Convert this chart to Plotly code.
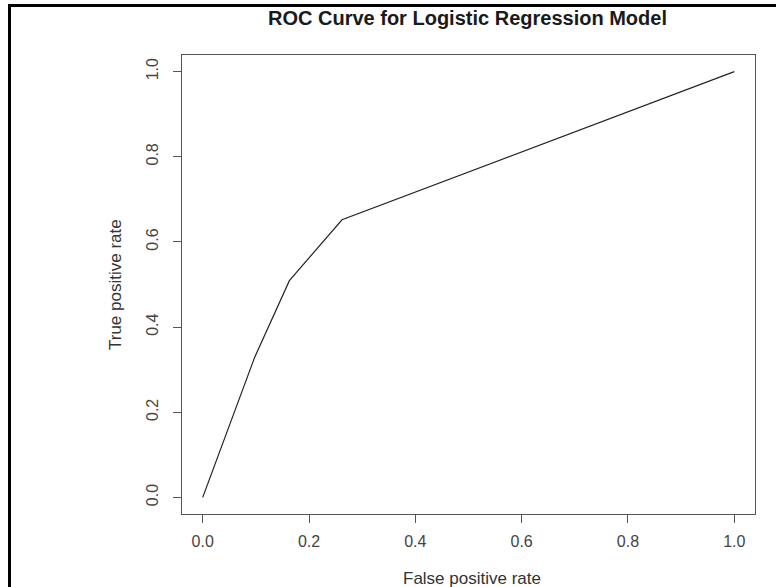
import plotly.graph_objects as go

fpr = [0.0, 0.098, 0.163, 0.262, 1.0]
tpr = [0.0, 0.33, 0.509, 0.652, 1.0]
tick_vals = [0.0, 0.2, 0.4, 0.6, 0.8, 1.0]
tick_text = ["0.0", "0.2", "0.4", "0.6", "0.8", "1.0"]

W, H = 776, 587
L, R, T, B = 182, 21, 55, 73
pw, ph = W - L - R, H - T - B

def px_x(p):
    return (p - L) / pw

def px_y(p):
    return 1 - (p - T) / ph

fig = go.Figure()
fig.add_trace(go.Scatter(x=fpr, y=tpr, mode="lines",
                         line=dict(color="#222222", width=1.2),
                         showlegend=False, hoverinfo="skip"))

font = "Liberation Sans, Arial, sans-serif"
axis_common = dict(range=[-0.039, 1.039], tickvals=tick_vals, ticktext=tick_text,
                   showgrid=False, zeroline=False, showline=True, mirror=True,
                   linecolor="#555555", linewidth=1.3, automargin=False,
                   ticks="outside", ticklen=8, tickcolor="#555555", tickwidth=1.3,
                   tickfont=dict(size=16, color="#444444"))
fig.update_layout(
    width=W, height=H,
    margin=dict(l=L, r=R, t=T, b=B, pad=0),
    paper_bgcolor="white", plot_bgcolor="white",
    font=dict(family=font, color="#333333"),
    xaxis=dict(**axis_common, ticklabelstandoff=5),
    yaxis=dict(**axis_common, tickangle=-90, ticklabelstandoff=8),
)

fig.add_annotation(text="<b>ROC Curve for Logistic Regression Model</b>",
                   xref="paper", yref="paper", x=px_x(467.5), y=px_y(18),
                   xanchor="center", yanchor="middle", showarrow=False,
                   font=dict(size=20, color="#1a1a1a", family=font))
fig.add_annotation(text="False positive rate",
                   xref="paper", yref="paper", x=px_x(472), y=px_y(578),
                   xanchor="center", yanchor="middle", showarrow=False,
                   font=dict(size=17, color="#333333", family=font))
fig.add_annotation(text="True positive rate", textangle=-90,
                   xref="paper", yref="paper", x=px_x(115), y=px_y(285),
                   xanchor="center", yanchor="middle", showarrow=False,
                   font=dict(size=17, color="#333333", family=font))

# outer frame (left and top edges visible in the reference)
fig.add_shape(type="path", xref="paper", yref="paper",
              path=f"M {px_x(9.5)} {px_y(587)} L {px_x(9.5)} {px_y(5.5)} L {px_x(776)} {px_y(5.5)}",
              line=dict(color="black", width=3))

fig.write_html("out.html", config={"displayModeBar": False},
               post_script="document.body.style.margin='0';document.body.style.overflow='hidden';")
